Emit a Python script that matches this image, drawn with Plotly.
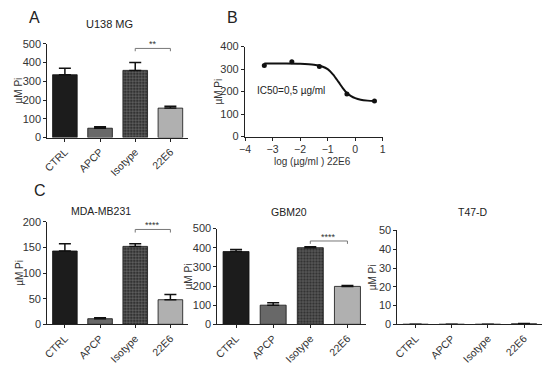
import plotly.graph_objects as go

W, H = 550, 370
FONT = "Arial, Liberation Sans, sans-serif"

categories = ["CTRL", "APCP", "Isotype", "22E6"]

u138_vals = [335, 50, 358, 157]
u138_err = [35, 8, 42, 10]

mda_vals = [143, 11, 152, 48]
mda_err = [14, 2, 5, 10]

gbm_vals = [380, 100, 400, 198]
gbm_err = [10, 13, 5, 5]

t47_vals = [0, 0, 0, 0.3]
t47_err = [None, None, None, 0.1]

# dose-response (panel B)
dose_log = [-3.3, -2.3, -1.3, -0.3, 0.7]
dose_pi = [316, 333, 312, 190, 158]
curve_log = [-3.3, -2.5, -2.0, -1.5, -1.2, -1.0, -0.8, -0.6, -0.45, -0.3, -0.15, 0.0, 0.2, 0.45, 0.7]
curve_pi = [325, 325, 324, 320, 312, 300, 276, 242, 216, 194, 180, 171, 164, 160, 158]

bar_colors = ["#1c1c1c", "#686868", "#333333", "#b0b0b0"]

fig = go.Figure()

def px_dom_x(a, b):
    return [a / W, b / W]

def px_dom_y(top, bottom):
    return [1 - bottom / H, 1 - top / H]

def paper(x, y):
    return x / W, 1 - y / H

panels = [
    ("", u138_vals, u138_err, (42, 185), (39, 136), 500, 100, "**", 475, 13),
    ("3", mda_vals, mda_err, (42, 185), (223, 329), 200, 50, "****", 185, 13),
    ("4", gbm_vals, gbm_err, (215, 366), (230, 329), 500, 100, "****", 435, 185),
    ("5", t47_vals, t47_err, (398, 545), (232, 329), 50, 10, None, None, 373),
]

axis_common = dict(showline=True, linecolor="#222", linewidth=1.2, ticks="outside",
                   ticklen=3, tickcolor="#222", showgrid=False, zeroline=False,
                   tickfont=dict(family=FONT, size=11, color="#333"))

shapes = []
annotations = []

def add_text(txt, x, y, size, angle=0, color="#222"):
    px_, py_ = paper(x, y)
    annotations.append(dict(xref="paper", yref="paper", x=px_, y=py_, text=txt, showarrow=False,
                            xanchor="center", yanchor="middle", textangle=angle,
                            font=dict(family=FONT, size=size, color=color)))

for name, vals, errs, xd, yd, ymax, dt, sig, sigy, ytx in panels:
    xa = "x" + name
    ya = "y" + name
    fig.add_trace(go.Bar(
        x=list(range(4)), y=vals, xaxis=xa, yaxis=ya, width=0.7,
        marker=dict(color=bar_colors, line=dict(color="#111", width=0.8),
                    pattern=dict(shape=["", "", "+", ""], fgcolor="#3e3e3e",
                                 bgcolor="#2c2c2c", size=3, solidity=0.2)),
        error_y=dict(type="data", array=errs, arrayminus=[0] * 4, symmetric=False,
                     color="#111", thickness=1.5, width=6),
        showlegend=False, hoverinfo="skip"))
    fig.layout["xaxis" + name] = dict(
        domain=px_dom_x(*xd), anchor=ya, range=[-0.5, 3.5],
        tickmode="array", tickvals=list(range(4)), ticktext=categories, tickangle=-45,
        **{**axis_common, "tickfont": dict(family=FONT, size=10.5, color="#333")})
    fig.layout["yaxis" + name] = dict(domain=px_dom_y(*yd), anchor=xa, range=[0, ymax],
                                      dtick=dt, **axis_common)
    add_text("µM Pi", ytx, (yd[0] + yd[1]) / 2, 10, angle=-90, color="#333")
    if sig:
        shapes.append(dict(type="line", xref=xa, yref=ya, x0=2, x1=3, y0=sigy, y1=sigy,
                           line=dict(color="#777", width=1)))
        for xx in (2, 3):
            shapes.append(dict(type="line", xref=xa, yref=ya, x0=xx, x1=xx, y0=sigy,
                               y1=sigy - ymax * 0.03, line=dict(color="#777", width=1)))
        annotations.append(dict(xref=xa, yref=ya, x=2.5, y=sigy, text=sig, showarrow=False,
                                yanchor="bottom", yshift=-3,
                                font=dict(family=FONT, size=9, color="#333")))

# panel B
fig.add_trace(go.Scatter(x=curve_log, y=curve_pi, xaxis="x2", yaxis="y2", mode="lines",
                         line=dict(color="#111", width=2, shape="spline", smoothing=0.8),
                         showlegend=False, hoverinfo="skip"))
fig.add_trace(go.Scatter(x=dose_log, y=dose_pi, xaxis="x2", yaxis="y2", mode="markers",
                         marker=dict(color="#111", size=5), showlegend=False, hoverinfo="skip"))
fig.layout["xaxis2"] = dict(domain=px_dom_x(243, 383), anchor="y2", range=[-4, 1], dtick=1,
                            **{**axis_common, "tickfont": dict(family=FONT, size=10.5, color="#333")})
fig.layout["yaxis2"] = dict(domain=px_dom_y(42, 135), anchor="x2", range=[0, 400], dtick=100,
                            **axis_common)
add_text("µM Pi", 216, 88, 10, angle=-90, color="#333")
add_text("log (µg/ml ) 22E6", 312, 161, 10, color="#333")

for txt, (x, y), size in [("A", (29, 12), 16), ("B", (230, 12), 16), ("C", (35, 191), 16),
                          ("U138 MG", (105, 19), 11), ("MDA-MB231", (97, 212), 10.5),
                          ("GBM20", (288, 213), 10.5), ("T47-D", (475, 213), 10.5),
                          ("IC50=0,5 µg/ml", (290, 87), 10)]:
    add_text(txt, x, y, size)

fig.update_layout(width=W, height=H, margin=dict(l=0, r=0, t=0, b=0),
                  paper_bgcolor="white", plot_bgcolor="white",
                  shapes=shapes, annotations=annotations, bargap=0.3)

fig.write_html("out.html", config={"displayModeBar": False},
               post_script="document.body.style.margin='0';document.body.style.overflow='hidden';")
